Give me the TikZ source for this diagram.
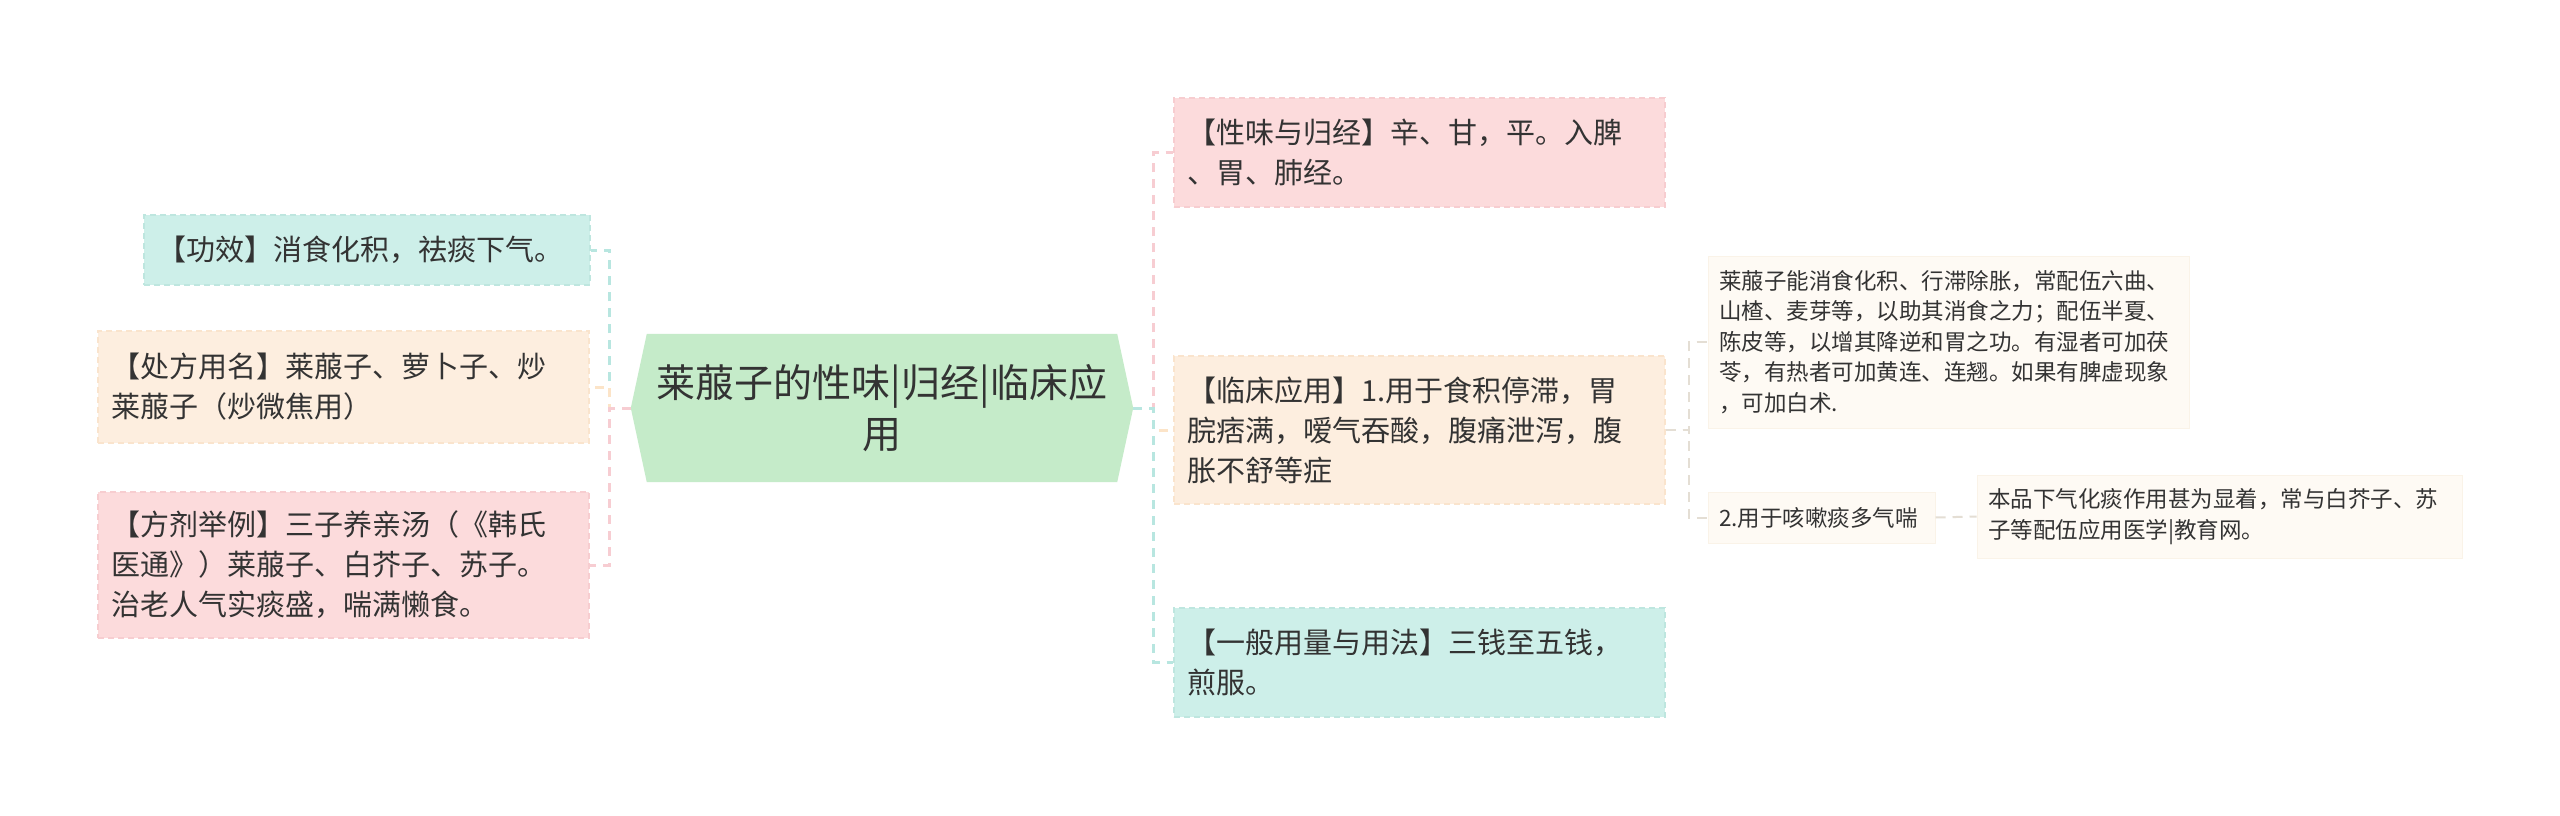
\documentclass[tikz,border=0pt]{standalone}
\usepackage{fontspec}
\setmainfont{Noto Sans CJK SC}
\usetikzlibrary{backgrounds}
\definecolor{txt}{RGB}{51,51,51}
\definecolor{tealF}{RGB}{205,239,233}
\definecolor{tealD}{RGB}{190,230,223}
\definecolor{oranF}{RGB}{253,238,223}
\definecolor{oranD}{RGB}{250,228,205}
\definecolor{pinkF}{RGB}{252,219,220}
\definecolor{pinkD}{RGB}{247,205,208}
\definecolor{greenF}{RGB}{197,235,201}
\definecolor{kidF}{RGB}{254,250,244}
\definecolor{kidD}{RGB}{250,243,232}
\definecolor{tealL}{RGB}{184,230,224}
\definecolor{oranL}{RGB}{252,228,200}
\definecolor{pinkL}{RGB}{247,205,210}
\definecolor{kidL}{RGB}{228,222,212}
\tikzset{
  box/.style={draw, dash pattern=on 6pt off 4pt, line width=1.2pt, inner xsep=13pt,
    inner ysep=0pt, align=left, text=txt, font=\fontsize{29}{40}\selectfont},
  kidbox/.style={draw=kidD, fill=kidF, line width=1pt, inner xsep=11pt, inner ysep=0pt,
    align=left, text=txt, font=\fontsize{22.5}{30.5}\selectfont},
  link/.style={line width=3pt, dash pattern=on 9pt off 7pt},
  kidlink/.style={draw=kidL, line width=2pt, dash pattern=on 10pt off 7pt}
}
\begin{document}
\begin{tikzpicture}[x=1pt,y=-1pt]
\useasboundingbox (0,0) rectangle (2560,816);

% root
\node[font=\fontsize{39}{51}\selectfont, text=txt, align=center, minimum width=502pt,
  minimum height=148pt, inner sep=0pt] (root) at (882,408) {莱菔子的性味|归经|临床应\\用};
\begin{scope}[on background layer]
\fill[white] (0,0) rectangle (2560,816);
\fill[greenF] (root.west) -- ([xshift=16pt]root.north west) -- ([xshift=-16pt]root.north east)
  -- (root.east) -- ([xshift=-16pt]root.south east) -- ([xshift=16pt]root.south west) -- cycle;
\end{scope}

% left nodes
\node[box, fill=tealF, draw=tealD, text width=420pt, minimum height=70pt] (gx) at (367,250)
  {【功效】消食化积，祛痰下气。};
\node[box, fill=oranF, draw=oranD, text width=465pt, minimum height=112pt] (cf) at (343.5,387)
  {【处方用名】莱菔子、萝卜子、炒\\莱菔子（炒微焦用）};
\node[box, fill=pinkF, draw=pinkD, text width=465pt, minimum height=146pt] (fj) at (343.5,565)
  {【方剂举例】三子养亲汤（《韩氏\\医通》）莱菔子、白芥子、苏子。\\治老人气实痰盛，喘满懒食。};

% right nodes
\node[box, fill=pinkF, draw=pinkD, text width=465pt, minimum height=109pt] (xw) at (1419.5,152.5)
  {【性味与归经】辛、甘，平。入脾\\、胃、肺经。};
\node[box, fill=oranF, draw=oranD, text width=465pt, minimum height=148pt] (lc) at (1419.5,430)
  {【临床应用】1.用于食积停滞，胃\\脘痞满，嗳气吞酸，腹痛泄泻，腹\\胀不舒等症};
\node[box, fill=tealF, draw=tealD, text width=465pt, minimum height=109pt] (yb) at (1419.5,662.5)
  {【一般用量与用法】三钱至五钱，\\煎服。};

% second level
\node[kidbox, text width=459pt, minimum height=172pt] (c1) at (1948.5,342)
  {莱菔子能消食化积、行滞除胀，常配伍六曲、\\山楂、麦芽等，以助其消食之力；配伍半夏、\\陈皮等，以增其降逆和胃之功。有湿者可加茯\\苓，有热者可加黄连、连翘。如果有脾虚现象\\，可加白术.};
\node[kidbox, text width=205pt, minimum height=51pt] (c2) at (1821.5,517.5)
  {2.用于咳嗽痰多气喘};
\node[kidbox, text width=463pt, minimum height=83pt] (gc) at (2219.5,516.5)
  {本品下气化痰作用甚为显着，常与白芥子、苏\\子等配伍应用医学|教育网。};

% left connectors
\coordinate (lj) at ([xshift=-21pt]root.west);
\draw[link, draw=tealL] (root.west) -- (lj) |- (gx.east);
\draw[link, draw=oranL] (root.west) -- (lj) |- (cf.east);
\draw[link, draw=pinkL] (root.west) -- (lj) |- (fj.east);

% right connectors
\coordinate (rj) at ([xshift=20pt]root.east);
\draw[link, draw=pinkL] (root.east) -- (rj) |- (xw.west);
\draw[link, draw=oranL] (root.east) -- (rj) |- (lc.west);
\draw[link, draw=tealL] (root.east) -- (rj) |- (yb.west);

% child connectors
\coordinate (cj) at ([xshift=23pt]lc.east);
\draw[kidlink] (lc.east) -- (cj) |- (c1.west);
\draw[kidlink] (lc.east) -- (cj) |- (c2.west);
\draw[kidlink] (c2.east) -- (gc.west);
\end{tikzpicture}
\end{document}
